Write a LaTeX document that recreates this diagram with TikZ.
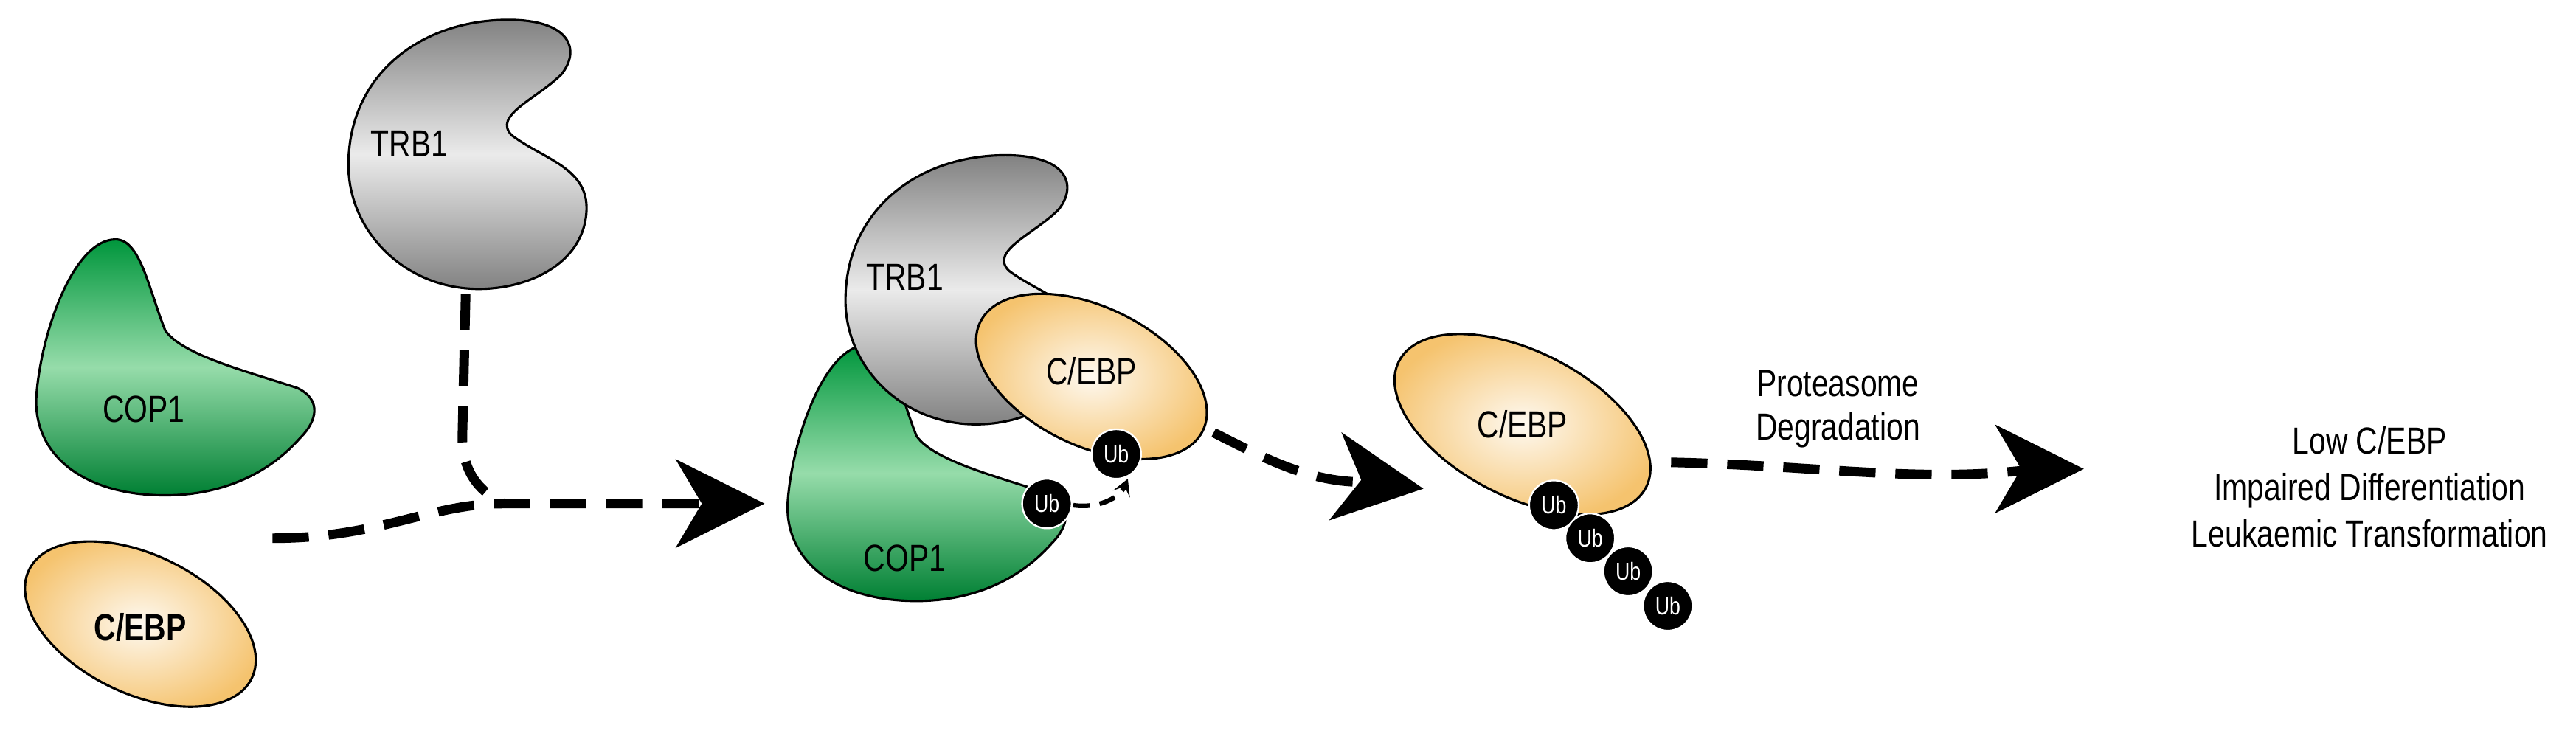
\documentclass[tikz,border=0pt]{standalone}
\usepackage{fontspec}
\setmainfont{Liberation Sans}[FakeStretch=0.8]
\usetikzlibrary{arrows.meta}
\definecolor{gout}{RGB}{0,150,60}
\definecolor{gmid}{RGB}{150,220,170}
\definecolor{grayout}{RGB}{130,130,130}
\definecolor{oout}{RGB}{245,195,110}
\begin{document}
\begin{tikzpicture}[x=0.02cm,y=-0.02cm,
  outl/.style={draw=black,line width=0.8pt},
  trb/.style={outl,top color=grayout,bottom color=grayout,middle color=white!92!black},
  cop/.style={outl,top color=gout,bottom color=gout!85!black,middle color=gmid},
  ceb/.style={outl,inner color=white!90!oout,outer color=oout},
  lab/.style={font=\fontsize{13}{15}\selectfont},
  ub/.style={circle,fill=black,draw=white,line width=0.6pt,minimum size=0.6cm,inner sep=0pt,text=white,font=\fontsize{8.5}{9}\selectfont},
  flow/.style={line width=3.3pt,dash pattern=on 0.44cm off 0.24cm},
  head/.style={fill=black},
  small/.style={line width=1.6pt,dash pattern=on 0.2cm off 0.12cm,-{Stealth[length=0.2cm,width=0.22cm,inset=0.1cm]}}]
\useasboundingbox (0,0) rectangle (1560,449.4);
\def\trbpath{(290,175) .. controls (245,175) and (211,140) .. (211,100) .. controls (211,45) and (255,12) .. (308,12) .. controls (345,12) and (352,30) .. (340,45) .. controls (325,60) and (298,70) .. (310,82) .. controls (330,97) and (358,102) .. (355,130) .. controls (352,160) and (320,175) .. (290,175) -- cycle}
\def\coppath{(70,145) .. controls (85,145) and (90,175) .. (100,200) .. controls (110,215) and (150,225) .. (180,235) .. controls (195,242) and (192,255) .. (182,265) .. controls (160,290) and (130,300) .. (100,300) .. controls (50,300) and (20,275) .. (22,240) .. controls (25,200) and (45,145) .. (70,145) -- cycle}
\def\chev{++(0,0) -- ++(-54,-27) -- ++(16,27) -- ++(-16,27) -- cycle}
% free molecules
\path[trb] \trbpath;
\node[lab] (trbA) at (248,87) {TRB1};
\path[cop] \coppath;
\node[lab] (copA) at (87,248) {COP1};
\path[ceb,rotate around={-26:(85,378)}] (85,378) ellipse [x radius=75,y radius=42];
\node[lab,font=\fontsize{13}{15}\selectfont\bfseries] (cebA) at (85,380) {C/EBP};
% complex
\begin{scope}[shift={(455,64)}]
\path[cop] \coppath;
\end{scope}
\begin{scope}[shift={(301,82)}]
\path[trb] \trbpath;
\end{scope}
\path[ceb,rotate around={-26:(661,228)}] (661,228) ellipse [x radius=75,y radius=42];
\node[lab] (trbB) at (548,168) {TRB1};
\node[lab] (cebB) at (661,225) {C/EBP};
\node[lab] (copB) at (548,338) {COP1};
\node[ub] (ubC) at (634,305) {Ub};
\node[ub] (ubD) at (676,275) {Ub};
% degraded C/EBP
\path[ceb,rotate around={-27:(922,257)}] (922,257) ellipse [x radius=84,y radius=44];
\node[lab] (cebC) at (922,257) {C/EBP};
\node[ub] (u1) at (941,306) {Ub};
\node[ub] (u2) at (963,326) {Ub};
\node[ub] (u3) at (986,346) {Ub};
\node[ub] (u4) at (1010,367) {Ub};
% texts
\node[lab,align=center] (prot) at (1113,248) {Proteasome\\Degradation};
\node[lab,align=center,font=\fontsize{13}{16}\selectfont] (out) at (1435,295) {Low C/EBP\\Impaired Differentiation\\Leukaemic Transformation};
% connectors
\coordinate (s1) at (165,326);
\coordinate (j1) at (305,305);
\coordinate (t1) at (463,305);
\coordinate (n1) at (425,305);
\coordinate (b1) at (282,178);
\draw[flow] (s1) .. controls (230,326) and (260,305) .. (j1) -- (n1);
\fill[head] (t1) \chev;
\draw[flow] (b1) -- (280,265) .. controls (280,290) and (295,300) .. (j1);
\coordinate (s2) at (735,262);
\coordinate (t2) at (862,296);
\coordinate (n2) at (826,292);
\draw[flow] (s2) .. controls (770,280) and (795,292) .. (n2);
\begin{scope}[rotate around={-8:(t2)}]
\fill[head] (t2) \chev;
\end{scope}
\coordinate (s3) at (1012,280);
\coordinate (t3) at (1262,284);
\coordinate (n3) at (1225,285);
\draw[flow] (s3) .. controls (1100,282) and (1160,292) .. (n3);
\fill[head] (t3) \chev;
\coordinate (s4) at (650,306);
\coordinate (t4) at (683,290);
\draw[small] (s4) .. controls (665,308) and (678,302) .. (t4);
\end{tikzpicture}
\end{document}
